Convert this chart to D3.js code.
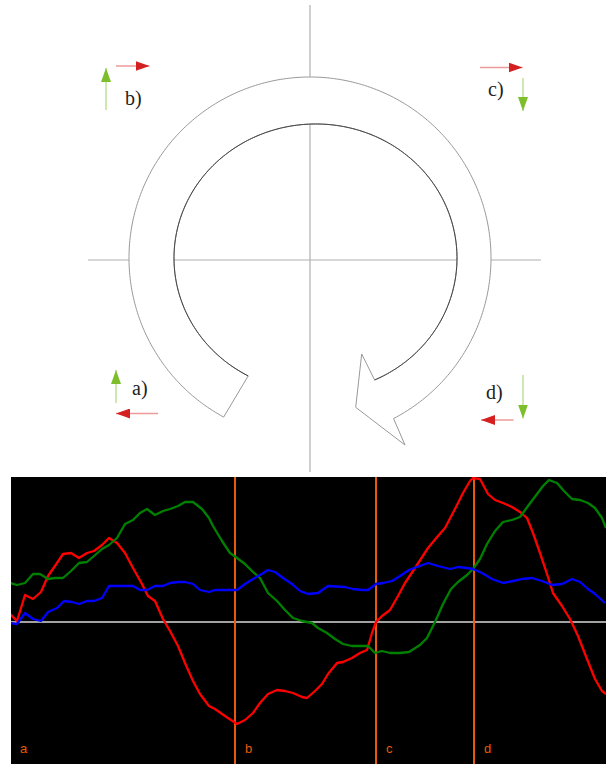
<!DOCTYPE html>
<html>
<head>
<meta charset="utf-8">
<script src="https://cdn.jsdelivr.net/npm/d3@7"></script>
<style>
  html, body { margin: 0; padding: 0; background: #fff; }
  svg { display: block; }
</style>
</head>
<body>
<svg id="chart" width="606" height="764"></svg>
<script>
// ---- Traces: [time step, signal level] ----
const redSeries = [[0,8],[7,1],[15,27],[23,23],[31,30],[38,46],[47,59],[53,68],[61,69],[69,64],[77,69],[84,71],[92,77],[99,84],[107,79],[115,69],[123,54],[132,38],[138,26],[145,21],[153,3],[160,-9],[168,-24],[175,-41],[183,-59],[190,-72],[199,-84],[205,-87],[215,-94],[227,-102],[235,-98],[243,-91],[250,-81],[258,-72],[267,-68],[275,-69],[283,-71],[292,-75],[297,-76],[305,-69],[312,-62],[318,-52],[327,-41],[333,-40],[342,-36],[350,-31],[357,-28],[362,-11],[366,0],[372,6],[380,12],[388,26],[395,39],[405,54],[418,74],[428,86],[435,94],[445,113],[453,129],[460,141],[463,144],[470,143],[478,128],[485,122],[493,119],[502,115],[510,110],[517,104],[523,89],[530,69],[537,48],[543,29],[552,16],[560,3],[568,-14],[577,-37],[585,-57],[592,-69],[596,-72]];

const greenSeries = [[0,39],[7,37],[15,39],[23,48],[30,48],[38,43],[45,44],[53,44],[61,51],[69,59],[77,60],[84,66],[92,73],[99,77],[107,84],[115,98],[123,102],[130,109],[137,113],[145,107],[153,111],[160,113],[168,116],[175,120],[183,120],[192,113],[199,104],[203,96],[212,81],[220,69],[227,64],[235,58],[243,50],[250,44],[258,29],[267,21],[275,12],[283,4],[292,1],[302,-1],[308,-6],[317,-11],[325,-17],[333,-22],[342,-24],[350,-24],[358,-24],[365,-31],[372,-29],[380,-31],[390,-31],[399,-30],[410,-23],[417,-16],[425,0],[433,18],[441,33],[448,40],[457,47],[463,53],[470,63],[477,78],[485,91],[493,100],[502,102],[510,105],[518,116],[527,128],[533,136],[539,142],[547,139],[554,131],[562,123],[570,122],[578,119],[585,114],[592,104],[596,94]];

const blueSeries = [[0,-1],[7,-2],[15,9],[23,3],[31,1],[38,10],[47,14],[54,21],[62,20],[69,18],[77,21],[84,21],[92,24],[99,36],[123,36],[130,32],[137,32],[145,36],[153,36],[160,39],[168,40],[175,40],[183,38],[190,32],[199,30],[205,32],[227,32],[235,38],[243,43],[250,47],[258,52],[265,50],[273,44],[282,38],[290,31],[298,28],[308,29],[318,36],[335,35],[343,33],[352,32],[358,32],[366,38],[373,39],[382,41],[390,46],[399,52],[407,55],[418,59],[428,56],[440,53],[448,55],[457,54],[463,53],[472,49],[482,43],[493,39],[503,41],[512,43],[522,44],[532,41],[542,37],[552,38],[562,43],[570,40],[578,33],[585,28],[595,19]];

// Phase markers on the time axis and their captions
const phaseTimes  = [0, 225, 366, 464];
const phaseLabels = ["a", "b", "c", "d"];

// Cycle diagram captions (quadrant order a, b, c, d)
const quadrantLabels = ["a)", "b)", "c)", "d)"];

const svg = d3.select("#chart");

// ================= Cycle diagram =================
const diag = svg.append("g");
const axisColor = "#b0b0b0";

// crosshair axes
diag.append("line").attr("x1", 310).attr("x2", 310).attr("y1", 5).attr("y2", 472)
  .attr("stroke", axisColor).attr("stroke-width", 1.2);
diag.append("line").attr("x1", 88).attr("x2", 541).attr("y1", 260).attr("y2", 260)
  .attr("stroke", axisColor).attr("stroke-width", 1.2);

// circular arrow: ring between two curves, angles measured clockwise from "up"
const ring = {
  outer: { cx: 310, cy: 258 },
  inner: { cx: 313, cy: 259 },
  start: 208.5,          // tail angle
  end: 153 + 360         // head angle
};
const rad = deg => deg * Math.PI / 180;
// outer edge is a plain circle; the inner edge is a smooth, slightly uneven loop
const outerR = () => 181;
const innerR = deg => {
  const a = rad(deg);
  return 137.75 + 2.5 * Math.sin(a) + 1 * Math.cos(a) - 3.75 * Math.cos(2 * a);
};

const polar = (c, r, deg) => {
  const a = rad(deg);
  return [c.cx + r * Math.sin(a), c.cy - r * Math.cos(a)];
};
const outerPts = d3.range(ring.start, ring.end + 0.01, 1).map(d => polar(ring.outer, outerR(d), d));
const innerPts = d3.range(ring.end, ring.start - 0.01, -1).map(d => polar(ring.inner, innerR(d), d));
const headPts = [[405, 445], [355.7, 407.3], [361.7, 354]];

const outline = [...outerPts, ...headPts, ...innerPts];
diag.append("path")
  .attr("d", d3.line()(outline) + "Z")
  .attr("fill", "#fff")
  .attr("stroke", "#999")
  .attr("stroke-width", 1);
// inner edge drawn a touch darker
diag.append("path")
  .attr("d", d3.line()(innerPts))
  .attr("fill", "none")
  .attr("stroke", "#444")
  .attr("stroke-width", 1);

// small direction arrows
const defs = svg.append("defs");
function headMarker(id, color) {
  defs.append("marker")
    .attr("id", id)
    .attr("viewBox", "0 0 14 10")
    .attr("refX", 14).attr("refY", 5)
    .attr("markerWidth", 14).attr("markerHeight", 10)
    .attr("markerUnits", "userSpaceOnUse")
    .attr("orient", "auto")
    .append("path").attr("d", "M0,0L14,5L0,10Z").attr("fill", color);
}
headMarker("hRed", "#d42020");
headMarker("hGreen", "#7dbf2a");

function arrow(x1, y1, x2, y2, kind) {
  diag.append("line")
    .attr("x1", x1).attr("y1", y1).attr("x2", x2).attr("y2", y2)
    .attr("stroke", kind === "red" ? "#ee9a9a" : "#b5dc85")
    .attr("stroke-width", 1.3)
    .attr("marker-end", kind === "red" ? "url(#hRed)" : "url(#hGreen)");
}
// a)
arrow(116, 403, 116, 370, "green");
arrow(158, 413.5, 116, 413.5, "red");
// b)
arrow(106, 110, 106, 68, "green");
arrow(116, 66, 149.5, 66, "red");
// c)
arrow(480, 67.5, 522.5, 67.5, "red");
arrow(523, 78, 523, 111, "green");
// d)
arrow(523, 375, 523, 418.5, "green");
arrow(513.5, 420, 481, 420, "red");

const qPos = [[132, 395], [125, 105], [488, 96], [486, 399]];
diag.selectAll("text.q").data(quadrantLabels).join("text")
  .attr("class", "q")
  .attr("x", (d, i) => qPos[i][0])
  .attr("y", (d, i) => qPos[i][1])
  .attr("font-family", "Liberation Serif, Times New Roman, serif")
  .attr("font-size", 20)
  .attr("fill", "#222")
  .text(d => d);

// ================= Trace panel =================
const panel = { x0: 11, x1: 606, y0: 477, y1: 764 };
svg.append("rect")
  .attr("x", panel.x0).attr("y", panel.y0)
  .attr("width", panel.x1 - panel.x0).attr("height", panel.y1 - panel.y0)
  .attr("fill", "#000");

defs.append("clipPath").attr("id", "panelClip")
  .append("rect")
  .attr("x", panel.x0).attr("y", panel.y0)
  .attr("width", panel.x1 - panel.x0).attr("height", panel.y1 - panel.y0);

const x = d3.scaleLinear().domain([0, 596]).range([10, 606]);
const y = d3.scaleLinear().domain([-142, 145]).range([764, 477]);

const g = svg.append("g").attr("clip-path", "url(#panelClip)");

// zero level
g.append("line")
  .attr("x1", panel.x0).attr("x2", panel.x1)
  .attr("y1", y(0)).attr("y2", y(0))
  .attr("stroke", "#d8d8d8").attr("stroke-width", 1.5);

// phase markers
const orange = "#e8590c";
g.selectAll("line.phase").data(phaseTimes.slice(1)).join("line")
  .attr("class", "phase")
  .attr("x1", d => x(d)).attr("x2", d => x(d))
  .attr("y1", panel.y0).attr("y2", panel.y1)
  .attr("stroke", orange).attr("stroke-width", 2);

const line = d3.line().x(d => x(d[0])).y(d => y(d[1]));
[[redSeries, "#ff0000"], [greenSeries, "#008000"], [blueSeries, "#0000ff"]].forEach(([s, c]) => {
  g.append("path")
    .attr("d", line(s))
    .attr("fill", "none")
    .attr("stroke", c)
    .attr("stroke-width", 2.3)
    .attr("stroke-linejoin", "round");
});

g.selectAll("text.phase").data(phaseLabels).join("text")
  .attr("class", "phase")
  .attr("x", (d, i) => x(phaseTimes[i]) + 10)
  .attr("y", 753)
  .attr("font-family", "Liberation Sans, Arial, sans-serif")
  .attr("font-size", 13)
  .attr("fill", orange)
  .text(d => d);
</script>
</body>
</html>
